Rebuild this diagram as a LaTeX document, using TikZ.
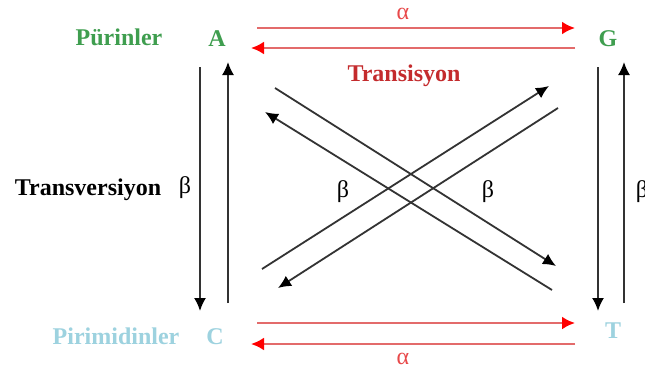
\documentclass[tikz,border=0pt]{standalone}
\usepackage{fontspec}
\setmainfont{Liberation Serif}
\usetikzlibrary{arrows.meta}
\definecolor{pgreen}{HTML}{3F9E4F}
\definecolor{pblue}{HTML}{9DD2DF}
\definecolor{tred}{HTML}{C42B2D}
\definecolor{ared}{HTML}{E8494A}
\definecolor{lred}{HTML}{E36B6B}
\definecolor{dgray}{HTML}{333333}
\tikzset{
  lbl/.style={inner sep=0pt, font=\fontsize{24}{26}\selectfont\bfseries},
  greek/.style={inner sep=0pt, font=\fontsize{24}{26}\selectfont},
  redarr/.style={draw=lred, line width=2.4pt, -{Latex[length=13pt,width=13pt,color=red]}},
  blkarr/.style={draw=dgray, line width=1.8pt, -{Latex[length=13pt,width=12pt,color=black]}}
}
\begin{document}
\begin{tikzpicture}[x=1pt,y=-1pt]
\useasboundingbox[fill=white] (0,0) rectangle (645,372);
% labels
\node[lbl, text=pgreen] (pur) at (119,37) {Pürinler};
\node[lbl, text=pgreen] (A) at (217,39) {A};
\node[lbl, text=pgreen] (G) at (608,39) {G};
\node[lbl, text=pblue] (pir) at (116,336) {Pirimidinler};
\node[lbl, text=pblue] (C) at (215,337) {C};
\node[lbl, text=pblue] (T) at (613,331) {T};
\node[lbl, text=tred] (trs) at (404,76) {Transisyon};
\node[lbl, text=black] (trv) at (88,190) {Transversiyon};
\node[greek, text=ared] (a1) at (403,14) {α};
\node[greek, text=ared] (a2) at (403,359) {α};
\node[greek] (b1) at (185,188) {β};
\node[greek] (b2) at (343,192) {β};
\node[greek] (b3) at (488,192) {β};
\node[greek] (b4) at (642,192) {β};
% coordinates
\coordinate (r1s) at (257,28); \coordinate (r1e) at (575,28);
\coordinate (r2s) at (575,48); \coordinate (r2e) at (251,48);
\coordinate (r3s) at (257,323); \coordinate (r3e) at (575,323);
\coordinate (r4s) at (575,344); \coordinate (r4e) at (251,344);
\coordinate (v1s) at (200,67); \coordinate (v1e) at (200,311);
\coordinate (v2s) at (228,303); \coordinate (v2e) at (228,62);
\coordinate (v3s) at (598,67); \coordinate (v3e) at (598,311);
\coordinate (v4s) at (624,303); \coordinate (v4e) at (624,62);
\coordinate (d1s) at (275,88); \coordinate (d1e) at (556,266);
\coordinate (d2s) at (552,290); \coordinate (d2e) at (265,112);
\coordinate (d3s) at (262,269); \coordinate (d3e) at (549,86);
\coordinate (d4s) at (558,108); \coordinate (d4e) at (278,288);
% red arrows
\draw[redarr] (r1s) -- (r1e);
\draw[redarr] (r2s) -- (r2e);
\draw[redarr] (r3s) -- (r3e);
\draw[redarr] (r4s) -- (r4e);
% vertical
\draw[blkarr] (v1s) -- (v1e);
\draw[blkarr] (v2s) -- (v2e);
\draw[blkarr] (v3s) -- (v3e);
\draw[blkarr] (v4s) -- (v4e);
% diagonals
\draw[blkarr] (d1s) -- (d1e);
\draw[blkarr] (d2s) -- (d2e);
\draw[blkarr] (d3s) -- (d3e);
\draw[blkarr] (d4s) -- (d4e);
\end{tikzpicture}
\end{document}
